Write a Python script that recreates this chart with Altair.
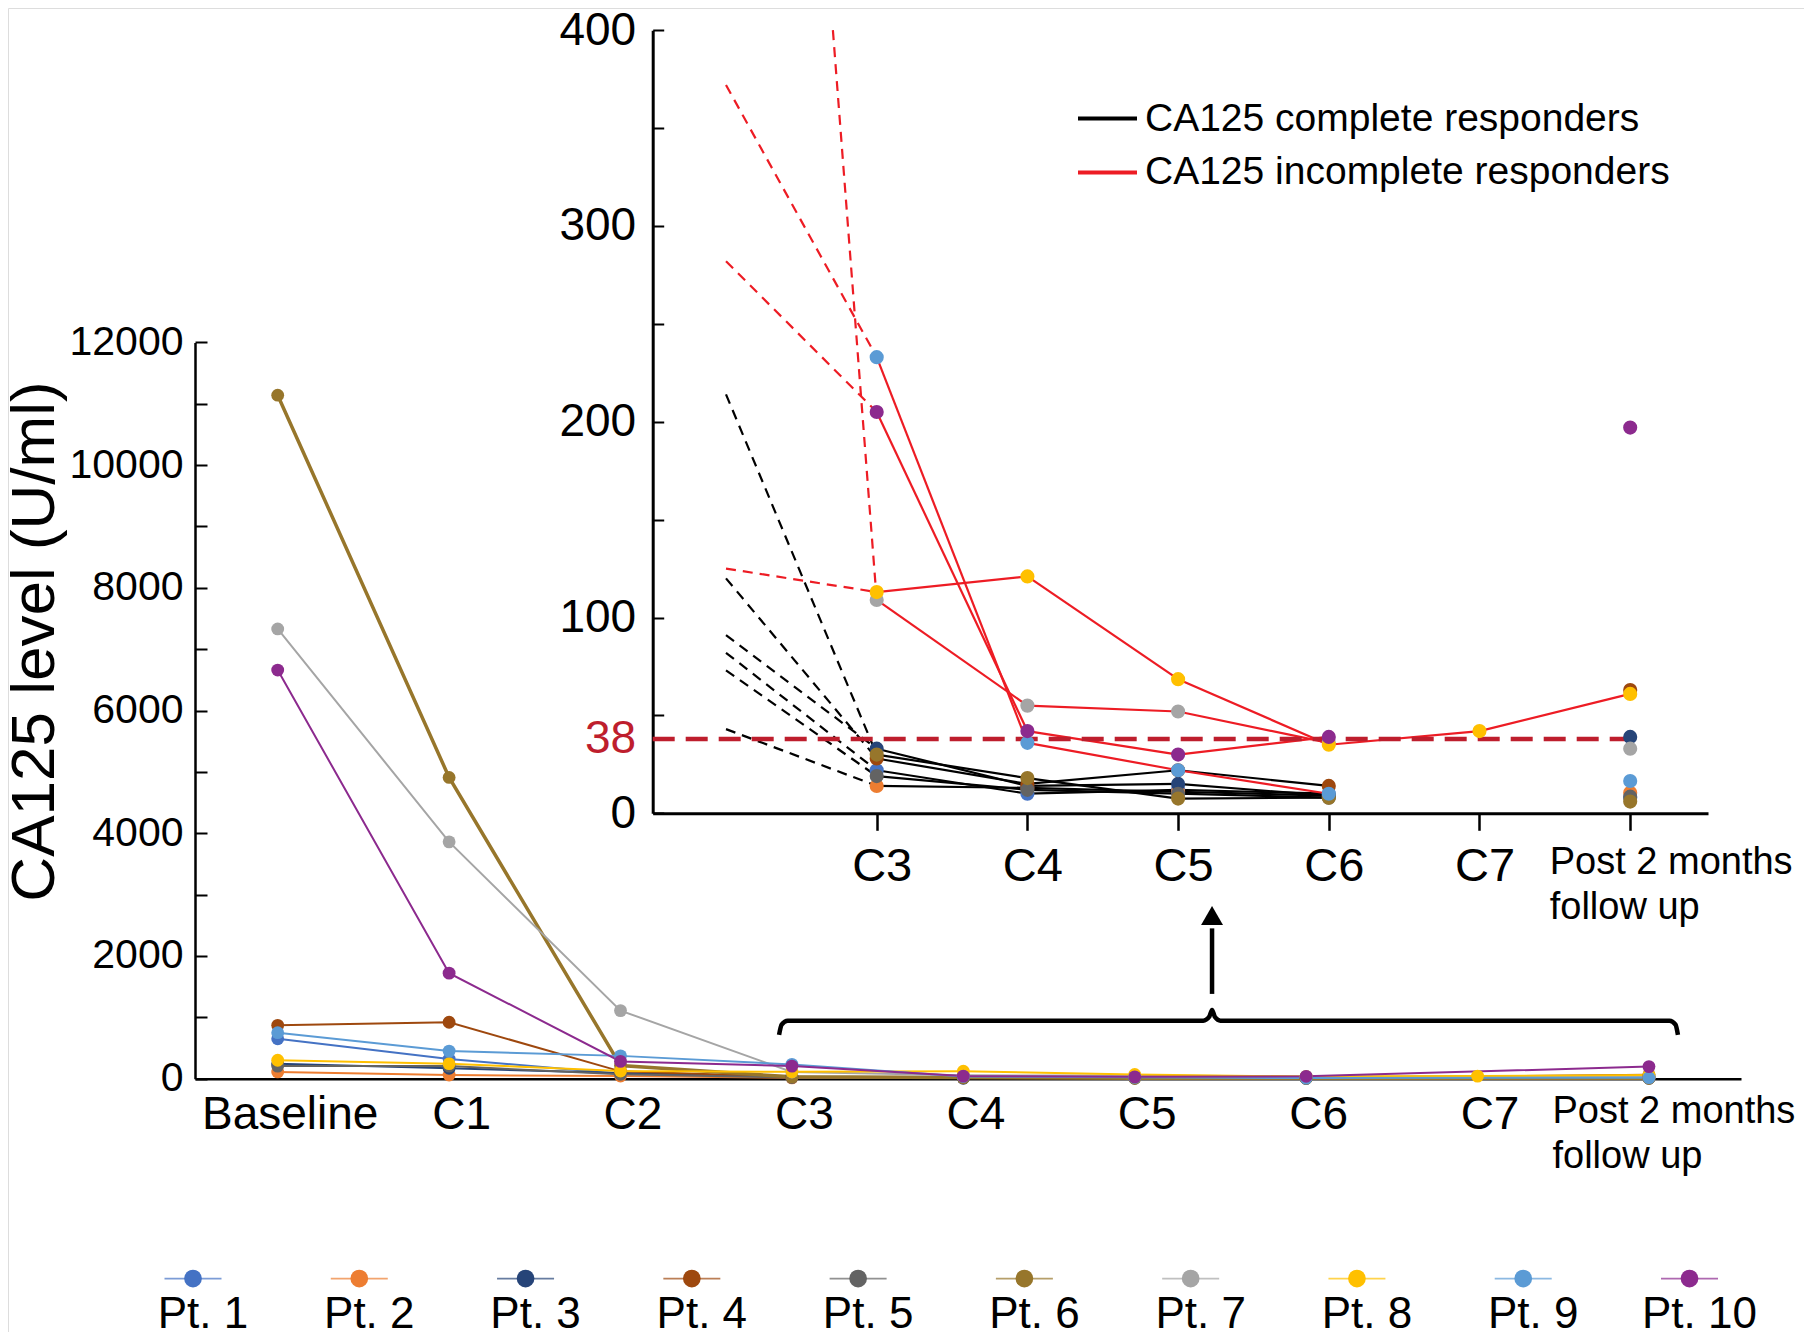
import json
import pandas as pd
import altair as alt

W, H = 1796, 1324

# ---------------- data ----------------
patients = [f"Pt. {i}" for i in range(1, 11)]
patient_colors = ["#4472C4", "#ED7D31", "#264478", "#9E480E", "#636363",
                  "#97762B", "#A5A5A5", "#FFC000", "#5B9BD5", "#8C2A8E"]
group_names = ["CA125 complete responders", "CA125 incomplete responders"]
group_colors = ["#000000", "#ED1C24"]
responder = [group_names[0]] * 6 + [group_names[1]] * 4

timepoints = ["Baseline", "C1", "C2", "C3", "C4", "C5", "C6", "C7",
              "Post 2 months\nfollow up"]

#        Base   C1    C2    C3   C4   C5    C6   C7    Post
pt1 = [650, 320, 82, 22, 10, 12, 10, None, 8]
pt2 = [110, 60, 43, 14, 13, 11, 9, None, 10.5]
pt3 = [245, 170, 91, 33, 14, 15, 9, None, 39]
pt4 = [870, 920, 120, 28, 15, 22, 14, None, 63]
pt5 = [205, 205, 73, 19, 12, 10, 8, None, 8.5]
pt6 = [11140, 4910, 214, 30, 18, 7.5, 8, None, 6]
pt7 = [7330, 3860, 1110, 109, 55, 52, 36, None, 33]
pt8 = [300, 245, 125, 113, 121, 68.5, 35, 42, 61]
pt9 = [750, 450, 372, 233, 36, 22, 10, None, 16.5]
pt10 = [6660, 1720, 282, 205, 42, 30, 39, None, 197]
pt_values = [pt1, pt2, pt3, pt4, pt5, pt6, pt7, pt8, pt9, pt10]

threshold = [38]
main_y_ticks = list(range(0, 12001, 2000))
main_y_minor = list(range(0, 12001, 1000))
inset_y_labels = [0, 38, 100, 200, 300, 400]
inset_y_minor = list(range(0, 401, 50))
inset_top = 400

# brace + arrow annotation (main chart data units)
brace_x = [2.925, 2.94, 2.975, 5.40, 5.435, 5.451, 5.467, 5.50, 8.12, 8.155, 8.169]
brace_y = [713, 880, 946, 946, 1010, 1121, 1010, 946, 946, 880, 713]
arrow_x = [5.451]
arrow_shaft_y = [1382, 2450]
arrow_head_y = [2660]

# ---------------- tables ----------------
rows = []
for p, g, vals in zip(patients, responder, pt_values):
    for i, v in enumerate(vals):
        rows.append({"patient": p, "group": g, "idx": i, "value": v})
long_df = pd.DataFrame(rows)
main_df = long_df.dropna(subset=["value"])
inset_pts = main_df[main_df["idx"] >= 3]

seg_rows = []
for p, g, vals in zip(patients, responder, pt_values):
    v2, v3 = vals[2], vals[3]
    if v2 > inset_top:
        x0, y0 = 2 + (v2 - inset_top) / (v2 - v3), inset_top
    else:
        x0, y0 = 2, v2
    seg_rows.append(dict(patient=p, group=g, kind="dashed", x0=x0, y0=y0, x1=3, y1=v3))
    for k in range(3, len(vals) - 1):
        if vals[k] is not None and vals[k + 1] is not None:
            seg_rows.append(dict(patient=p, group=g, kind="solid",
                                 x0=k, y0=vals[k], x1=k + 1, y1=vals[k + 1]))
seg_df = pd.DataFrame(seg_rows)
seg_df["gorder"] = seg_df["group"].map({group_names[0]: 0, group_names[1]: 1})
seg_df = seg_df.sort_values("gorder")
dashed_df = seg_df[seg_df.kind == "dashed"]
solid_df = seg_df[seg_df.kind == "solid"]

brace_df = pd.DataFrame({"x": brace_x, "y": brace_y})
shaft_df = pd.DataFrame({"x": arrow_x * 2, "y": arrow_shaft_y})
head_df = pd.DataFrame({"x": arrow_x, "y": arrow_head_y})
leg_df = pd.DataFrame({"patient": patients, "k": list(range(1, 11))})
inset_leg_df = pd.DataFrame({"group": group_names, "k": [0, 1]})

# ---------------- scales ----------------
main_x_scale = alt.Scale(domain=[-0.4825, 8.537], range=[187, 1733], nice=False, zero=False)
main_y_scale = alt.Scale(domain=[0, 12000], range=[1070.7, 334.4], nice=False, zero=False)
inset_x_scale = alt.Scale(domain=[1.5136, 8.5163], range=[644.7, 1700], nice=False, zero=False)
inset_y_scale = alt.Scale(domain=[0, 400], range=[805.3, 22.2], nice=False, zero=False)
leg_x_scale = alt.Scale(domain=[1, 10], range=[185, 1681.5], nice=False, zero=False)
inset_leg_y_scale = alt.Scale(domain=[0, 1], range=[110.6, 164.4], nice=False, zero=False)
color_scale = alt.Scale(domain=patients, range=patient_colors)
stroke_scale = alt.Scale(domain=group_names, range=group_colors)

last = len(timepoints) - 1
label_expr = json.dumps([t.split("\n") for t in timepoints]) + "[datum.value]"


def cond(test, a, b):
    return {"condition": {"test": test, "value": a}, "value": b}


is_post = f"datum.value == {last}"

main_x_axis = alt.Axis(
    orient="bottom", offset=-(H - 1070.7), values=list(range(len(timepoints))),
    labelExpr=label_expr, ticks=False, tickSize=0, domainWidth=2.5,
    labelPadding=14, labelLineHeight=45, labelLimit=2000,
    labelFontSize=cond(is_post, 38, 46),
    labelAlign=cond(is_post, "left", "center"),
    labelOffset=cond(is_post, -97, 12),
    labelOverlap=False, labelFlush=False, labelBound=False, title=None)
main_y_axis = alt.Axis(
    orient="left", offset=-187, values=main_y_ticks, format="d",
    ticks=False, tickSize=0, domainWidth=2.5, labelPadding=12, labelFontSize=41,
    labelOverlap=False, labelFlush=False, labelLimit=2000,
    title="CA125 level (U/ml)", titleFontSize=62, titleFontWeight="normal",
    titleAngle=270, titleX=-142, titleY=633, titleAlign="center",
    titleBaseline="alphabetic", titleLimit=2000)
main_y_tick_axis = alt.Axis(
    orient="right", offset=187 - W, values=main_y_minor, labels=False,
    domain=False, tickSize=12, tickWidth=2, title=None)

inset_x_axis = alt.Axis(
    orient="bottom", offset=-(H - 805.3), values=list(range(3, len(timepoints))),
    labelExpr=label_expr, tickSize=17, tickWidth=2.5, domainWidth=3,
    labelPadding=13, labelLineHeight=45, labelLimit=2000,
    labelFontSize=cond(is_post, 38, 47),
    labelAlign=cond(is_post, "left", "center"),
    labelOffset=cond(is_post, -81, 5),
    labelOverlap=False, labelFlush=False, labelBound=False, title=None)
inset_y_axis = alt.Axis(
    orient="left", offset=-644.7, values=inset_y_labels, format="d",
    ticks=False, tickSize=0, domainWidth=3, labelPadding=17, labelFontSize=46,
    labelColor=cond("datum.value == 38", "#BE1E2D", "black"),
    labelOverlap=False, labelFlush=False, labelLimit=2000, title=None)
inset_y_tick_axis = alt.Axis(
    orient="right", offset=644.7 - W, values=inset_y_minor, labels=False,
    domain=False, tickSize=11, tickWidth=2, title=None)

# ---------------- layers ----------------
main_lines = alt.Chart(main_df).mark_line().encode(
    x=alt.X("idx:Q", scale=main_x_scale, axis=main_x_axis),
    y=alt.Y("value:Q", scale=main_y_scale, axis=main_y_axis),
    color=alt.Color("patient:N", scale=color_scale, legend=None),
    detail="patient:N",
    strokeWidth=alt.condition(alt.datum.patient == "Pt. 6", alt.value(3.5), alt.value(2)),
)
main_points = alt.Chart(main_df).mark_circle(size=165, opacity=1).encode(
    x=alt.X("idx:Q", scale=main_x_scale, axis=None),
    y=alt.Y("value:Q", scale=main_y_scale, axis=None),
    color=alt.Color("patient:N", scale=color_scale, legend=None),
)
main_ticks = alt.Chart(pd.DataFrame({"v": [0]})).mark_point(opacity=0).encode(
    x=alt.X("v:Q", scale=main_x_scale, axis=None),
    y=alt.Y("v:Q", scale=main_y_scale, axis=main_y_tick_axis),
)
brace = alt.Chart(brace_df).mark_line(color="black", strokeWidth=4.5,
                                      interpolate="monotone").encode(
    x=alt.X("x:Q", scale=main_x_scale, axis=None),
    y=alt.Y("y:Q", scale=main_y_scale, axis=None),
)
shaft = alt.Chart(shaft_df).mark_line(color="black", strokeWidth=4.5).encode(
    x=alt.X("x:Q", scale=main_x_scale, axis=None),
    y=alt.Y("y:Q", scale=main_y_scale, axis=None),
)
head = alt.Chart(head_df).mark_point(shape="triangle-up", filled=True, color="black",
                                     size=480, opacity=1).encode(
    x=alt.X("x:Q", scale=main_x_scale, axis=None),
    y=alt.Y("y:Q", scale=main_y_scale, axis=None),
)

inset_dashed = alt.Chart(dashed_df).mark_rule(strokeWidth=2.2, strokeDash=[10, 7]).encode(
    x=alt.X("x0:Q", scale=inset_x_scale, axis=None), x2="x1:Q",
    y=alt.Y("y0:Q", scale=inset_y_scale, axis=None), y2="y1:Q",
    stroke=alt.Stroke("group:N", scale=stroke_scale, legend=None),
)
inset_solid = alt.Chart(solid_df).mark_rule(strokeWidth=2.2).encode(
    x=alt.X("x0:Q", scale=inset_x_scale, axis=None), x2="x1:Q",
    y=alt.Y("y0:Q", scale=inset_y_scale, axis=None), y2="y1:Q",
    stroke=alt.Stroke("group:N", scale=stroke_scale, legend=None),
)
thr_df = pd.DataFrame({"y": threshold, "x0": [1.5136], "x1": [last]})
thr = alt.Chart(thr_df).mark_rule(color="#BE1E2D", strokeWidth=4.5,
                                  strokeDash=[22, 11]).encode(
    x=alt.X("x0:Q", scale=inset_x_scale, axis=None), x2="x1:Q",
    y=alt.Y("y:Q", scale=inset_y_scale, axis=None),
)
inset_points = alt.Chart(inset_pts).mark_circle(size=200, opacity=1).encode(
    x=alt.X("idx:Q", scale=inset_x_scale, axis=inset_x_axis),
    y=alt.Y("value:Q", scale=inset_y_scale, axis=inset_y_axis),
    color=alt.Color("patient:N", scale=color_scale, legend=None),
)
inset_ticks = alt.Chart(pd.DataFrame({"v": [0]})).mark_point(opacity=0).encode(
    x=alt.X("v:Q", scale=inset_x_scale, axis=None),
    y=alt.Y("v:Q", scale=inset_y_scale, axis=inset_y_tick_axis),
)

# inset legend (responder groups)
inset_leg_lines = alt.Chart(inset_leg_df).mark_rule(strokeWidth=4).encode(
    x=alt.value(1070), x2=alt.value(1129),
    y=alt.Y("k:Q", scale=inset_leg_y_scale, axis=None),
    stroke=alt.Stroke("group:N", scale=stroke_scale, legend=None),
)
inset_leg_text = alt.Chart(inset_leg_df).mark_text(
    align="left", baseline="middle", fontSize=39, color="black",
    font="Liberation Sans").encode(
    x=alt.value(1137),
    y=alt.Y("k:Q", scale=inset_leg_y_scale, axis=None),
    text="group:N",
)

# bottom patient legend
leg_lines = alt.Chart(leg_df).mark_tick(orient="horizontal", size=57, thickness=1.6).encode(
    x=alt.X("k:Q", scale=leg_x_scale, axis=None),
    y=alt.value(1270.6),
    color=alt.Color("patient:N", scale=color_scale, legend=None),
)
leg_dots = alt.Chart(leg_df).mark_circle(size=314, opacity=1).encode(
    x=alt.X("k:Q", scale=leg_x_scale, axis=None),
    y=alt.value(1270.6),
    color=alt.Color("patient:N", scale=color_scale, legend=None),
)
leg_text = alt.Chart(leg_df).mark_text(fontSize=44, baseline="alphabetic", dx=10,
                                       color="black", font="Liberation Sans").encode(
    x=alt.X("k:Q", scale=leg_x_scale, axis=None),
    y=alt.value(1320),
    text="patient:N",
)

chart = alt.layer(
    main_lines, main_points, main_ticks, brace, shaft, head,
    inset_dashed, inset_solid, thr, inset_points, inset_ticks,
    inset_leg_lines, inset_leg_text,
    leg_lines, leg_dots, leg_text,
).resolve_scale(
    x="independent", y="independent"
).properties(
    width=W, height=H, padding=0,
    autosize=alt.AutoSizeParams(type="none"),
).configure_view(stroke=None).configure(
    font="Liberation Sans", background="white"
).configure_axis(
    grid=False, labelFont="Liberation Sans", titleFont="Liberation Sans",
    labelColor="black", titleColor="black", domainColor="black", tickColor="black",
)

chart.save("out.html", embed_options={"renderer": "svg", "actions": False})
